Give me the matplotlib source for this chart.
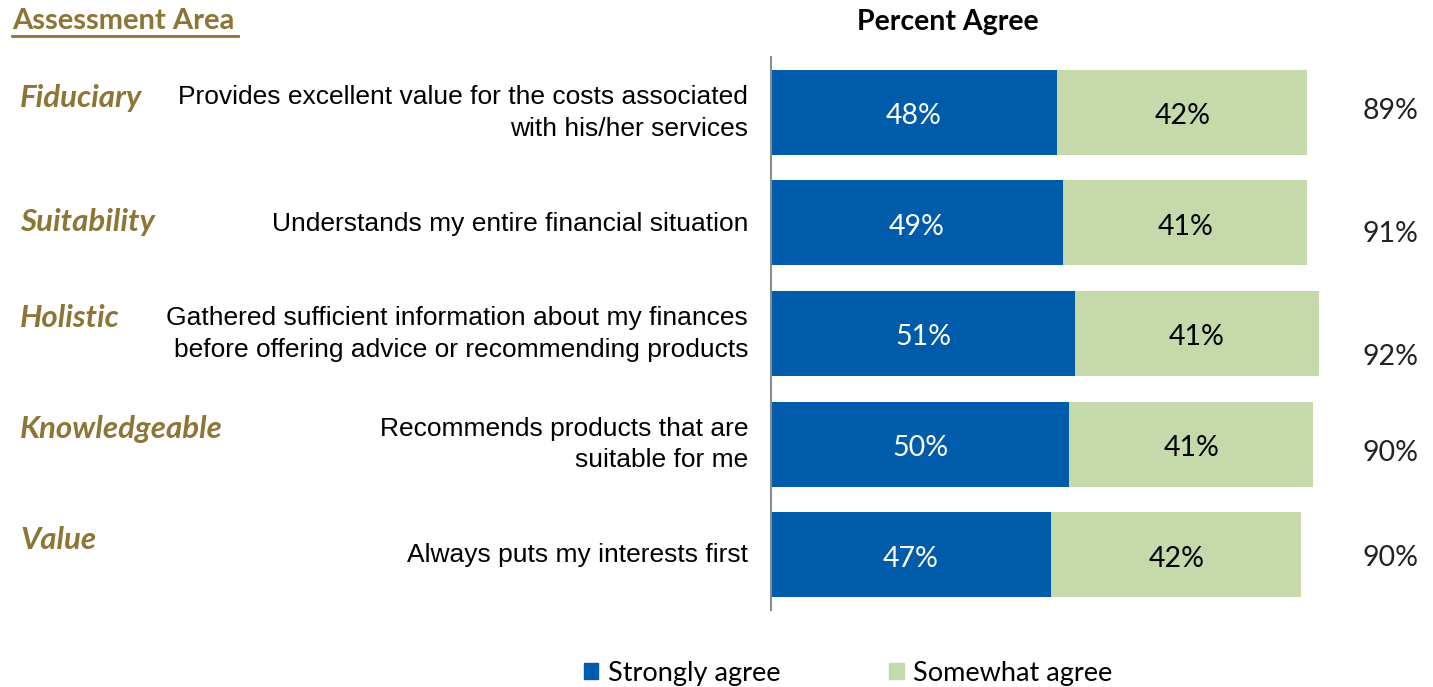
import matplotlib.pyplot as plt
from matplotlib.patches import Patch

# survey results, percent of respondents
areas = ["Fiduciary", "Suitability", "Holistic", "Knowledgeable", "Value"]
statements = [
    "Provides excellent value for the costs associated\nwith his/her services",
    "Understands my entire financial situation",
    "Gathered sufficient information about my finances\nbefore offering advice or recommending products",
    "Recommends products that are\nsuitable for me",
    "Always puts my interests first",
]
strongly = [48, 49, 51, 50, 47]
somewhat = [42, 41, 41, 41, 42]
totals = [89, 91, 92, 90, 90]

BLUE = "#005BAA"
GREEN = "#C5D9AA"
GOLD = "#8C7535"
CAL = ["Lato", "DejaVu Sans"]
ARIAL = ["Liberation Sans", "DejaVu Sans"]

# small vertical nudges for the side labels (in row units)
area_dy = [-0.13, -0.01, -0.14, -0.14, -0.13]
total_dy = [-0.01, 0.1, 0.21, 0.08, 0.03]

fig = plt.figure(figsize=(14.33, 6.87), dpi=100)
ax = fig.add_axes([771 / 1433, 1 - 610 / 687, 662 / 1433, 553 / 687])

rows = range(len(areas))
ax.barh(rows, strongly, height=0.77, color=BLUE)
ax.barh(rows, somewhat, left=strongly, height=0.77, color=GREEN)

for i in rows:
    ax.text(strongly[i] / 2, i + 0.035, f"{strongly[i]}%", ha="center", va="center",
            color="white", fontsize=20.5, family=CAL)
    ax.text(strongly[i] + somewhat[i] / 2, i + 0.035, f"{somewhat[i]}%", ha="center",
            va="center", color="black", fontsize=20.5, family=CAL)
    ax.text(104, i + total_dy[i], f"{totals[i]}%", ha="center", va="center",
            color="#222222", fontsize=20.5, family=CAL)

ax.set_xlim(0, 662 / 5.96)
ax.set_ylim(4.5, -0.5)
ax.set_xticks([])
ax.set_yticks([])
for side in ["top", "right", "bottom"]:
    ax.spines[side].set_visible(False)
ax.spines["left"].set_color("#8C8C8C")
ax.spines["left"].set_linewidth(1.5)

# statements on the left, right aligned against the axis
for i in rows:
    y = 1 - (113 + 110.5 * i) / 687
    fig.text(748 / 1433, y, statements[i], ha="right", va="center",
             fontsize=19, family=ARIAL, linespacing=1.38)
    ya = 1 - (112.5 + 110.5 * (i + area_dy[i])) / 687
    fig.text(20 / 1433, ya, areas[i], ha="left", va="center", fontsize=22.5,
             family=CAL, style="italic", weight="bold", color=GOLD)

fig.text(12 / 1433, 1 - 21 / 687, "Assessment Area", ha="left", va="center",
         fontsize=21, family=CAL, weight="bold", color=GOLD)
fig.add_artist(plt.Line2D([12 / 1433, 238 / 1433], [1 - 36 / 687, 1 - 36 / 687],
                          color=GOLD, lw=2))
fig.text(948 / 1433, 1 - 22 / 687, "Percent Agree", ha="center", va="center",
         fontsize=20.5, family=CAL, weight="bold")

handles = [Patch(color=BLUE, label="Strongly agree"),
           Patch(color=GREEN, label="Somewhat agree")]
fig.legend(handles=handles, loc="center", bbox_to_anchor=(848 / 1433, 1 - 673 / 687),
           ncol=2, frameon=False, prop={"family": CAL, "size": 19.5},
           handlelength=0.55, handleheight=0.55, handletextpad=0.35, columnspacing=4.0)

plt.savefig("out.png")
